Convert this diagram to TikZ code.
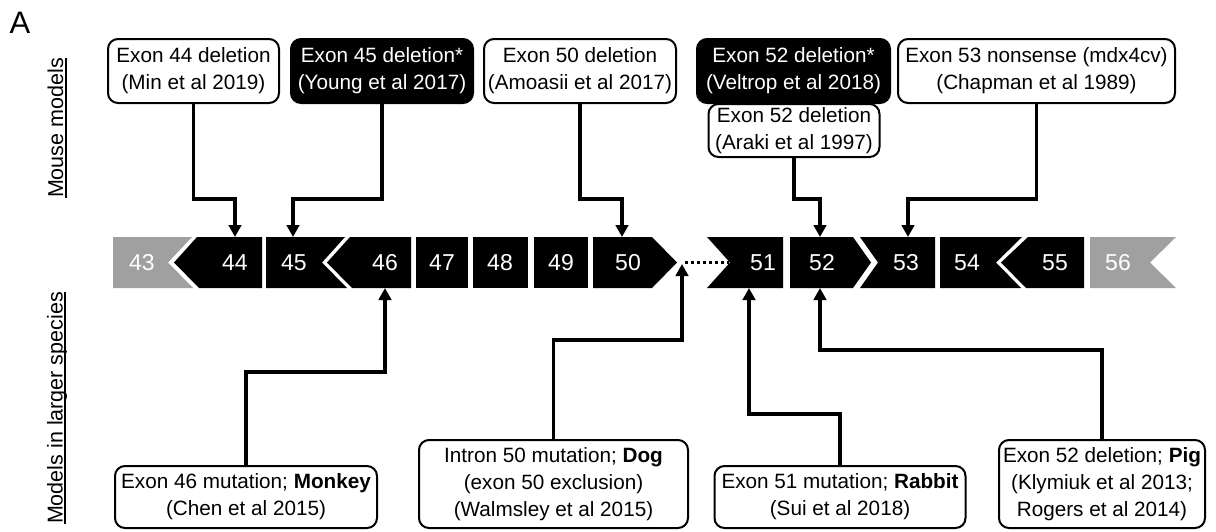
\documentclass[tikz,border=0pt]{standalone}
\usepackage{fontspec}
\setmainfont{Liberation Sans}
\usetikzlibrary{arrows.meta}
\definecolor{exgray}{RGB}{160,160,160}
\newcommand{\myul}[1]{\setbox0\hbox{#1}\leavevmode\rlap{\rule[-3.5pt]{\wd0}{1.6pt}}\box0}
\begin{document}
\begin{tikzpicture}[x=1pt,y=-1pt,
  lbl/.style={font=\fontsize{20.7}{27}\selectfont, align=center, inner sep=0pt},
  wbox/.style={lbl, draw=black, line width=2pt, rounded corners=10pt, fill=white},
  bbox/.style={lbl, draw=black, line width=2pt, rounded corners=10pt, fill=black, text=white},
  exblk/.style={fill=black},
  exgry/.style={fill=exgray},
  num/.style={font=\fontsize{23}{23}\selectfont, text=white, inner sep=0pt},
  conn/.style={line width=3.1pt, -{Triangle[length=12pt,width=12.5pt]}},
  side/.style={font=\fontsize{21.5}{22}\selectfont, rotate=90, inner sep=0pt}
]
\useasboundingbox (0,0) rectangle (1216,531);
\fill[white] (0,0) rectangle (1216,531);

% panel letter and side labels
\node[font=\fontsize{31}{31}\selectfont, inner sep=0pt] (lA) at (20,23) {A};
\node[side] (mm) at (57,128) {\myul{Mouse models}};
\node[side] (ml) at (57,408) {\myul{Models in larger species}};

% exons
\fill[exgry] (113,237) -- (192,237) -- (168,262.5) -- (193,288) -- (113,288) -- cycle;
\fill[exblk] (197,237) -- (262,237) -- (262,288) -- (199,288) -- (174,262.5) -- cycle;
\fill[exblk] (266,237) -- (345,237) -- (322,262.5) -- (347,288) -- (266,288) -- cycle;
\fill[exblk] (350,237) -- (411,237) -- (411,288) -- (352,288) -- (327,262.5) -- cycle;
\fill[exblk] (416,237) rectangle (468,288);
\fill[exblk] (473,237) rectangle (528,288);
\fill[exblk] (534,237) rectangle (588,288);
\fill[exblk] (593,237) -- (652,237) -- (677,262.5) -- (652,288) -- (593,288) -- cycle;
\fill[exblk] (707,237) -- (783,237) -- (783,288) -- (707,288) -- (730,262.5) -- cycle;
\fill[exblk] (790,237) -- (853,237) -- (871,262.5) -- (853,288) -- (790,288) -- cycle;
\fill[exblk] (860,237) -- (935,237) -- (935,288) -- (860,288) -- (878,262.5) -- cycle;
\fill[exblk] (940,237) -- (1022,237) -- (996,262.5) -- (1021,288) -- (940,288) -- cycle;
\fill[exblk] (1028,237) -- (1084,237) -- (1084,288) -- (1026,288) -- (1001,262.5) -- cycle;
\fill[exgry] (1090,237) -- (1176,237) -- (1150,262.5) -- (1176,288) -- (1090,288) -- cycle;

\node[num] (n43) at (142,263) {43};
\node[num] (n44) at (235,263) {44};
\node[num] (n45) at (294,263) {45};
\node[num] (n46) at (385,263) {46};
\node[num] (n47) at (442,263) {47};
\node[num] (n48) at (500,263) {48};
\node[num] (n49) at (561,263) {49};
\node[num] (n50) at (628,263) {50};
\node[num] (n51) at (763,263) {51};
\node[num] (n52) at (822,263) {52};
\node[num] (n53) at (906,263) {53};
\node[num] (n54) at (967,263) {54};
\node[num] (n55) at (1055,263) {55};
\node[num] (n56) at (1118,263) {56};

% connector end points on the exons
\coordinate (t44) at (235,237);
\coordinate (t45) at (293,237);
\coordinate (t50) at (622,237);
\coordinate (t52) at (820,237);
\coordinate (t53) at (908,237);
\coordinate (u46) at (385,288);
\coordinate (u50) at (682,264);
\coordinate (u51) at (749,288);
\coordinate (u52) at (820,288);
\coordinate (tip50) at (677,262.5);
\coordinate (notch51) at (730,262.5);

% mouse model boxes
\node[wbox, minimum width=171pt, minimum height=64pt] (b44) at (193.5,71) {Exon 44 deletion\\(Min et al 2019)};
\node[bbox, minimum width=182pt, minimum height=64pt] (b45) at (382,71) {Exon 45 deletion*\\(Young et al 2017)};
\node[wbox, minimum width=192pt, minimum height=64pt] (b50) at (580,71) {Exon 50 deletion\\(Amoasii et al 2017)};
\node[bbox, minimum width=193pt, minimum height=64pt] (b52v) at (793.5,71) {Exon 52 deletion*\\(Veltrop et al 2018)};
\node[wbox, minimum width=277pt, minimum height=64pt] (b53) at (1036.5,71) {Exon 53 nonsense (mdx4cv)\\(Chapman et al 1989)};
\node[wbox, minimum width=171pt, minimum height=53pt] (b52a) at (794,130.5) {Exon 52 deletion\\(Araki et al 1997)};

% larger species boxes
\node[wbox, minimum width=262pt, minimum height=62pt] (bmk) at (246,497) {Exon 46 mutation; \textbf{Monkey}\\(Chen et al 2015)};
\node[wbox, minimum width=269pt, minimum height=88pt] (bdg) at (553.5,484) {Intron 50 mutation; \textbf{Dog}\\(exon 50 exclusion)\\(Walmsley et al 2015)};
\node[wbox, minimum width=251pt, minimum height=62pt] (brb) at (840,497) {Exon 51 mutation; \textbf{Rabbit}\\(Sui et al 2018)};
\node[wbox, minimum width=206pt, minimum height=88pt] (bpg) at (1102,484) {Exon 52 deletion; \textbf{Pig}\\(Klymiuk et al 2013;\\Rogers et al 2014)};

% connectors
\draw[conn] (b44.south) -- (b44.south |- 0,199) -| (t44);
\draw[conn] (b45.south) -- (b45.south |- 0,199) -| (t45);
\draw[conn] (b50.south) -- (b50.south |- 0,199) -| (t50);
\draw[conn] (b52a.south) -- (b52a.south |- 0,199) -| (t52);
\draw[conn] (b53.south) -- (b53.south |- 0,199) -| (t53);

\draw[conn] (bmk.north) -- (bmk.north |- 0,372) -| (u46);
\draw[conn] (bdg.north) -- (bdg.north |- 0,340) -| (u50);
\draw[conn] (brb.north) -- (brb.north |- 0,414) -| (u51);
\draw[conn] (bpg.north) -- (bpg.north |- 0,350) -| (u52);

\draw[line width=2.6pt, dash pattern=on 2.5pt off 3.5pt, shorten <=8pt, shorten >=1pt] (tip50) -- (notch51);
\end{tikzpicture}
\end{document}
